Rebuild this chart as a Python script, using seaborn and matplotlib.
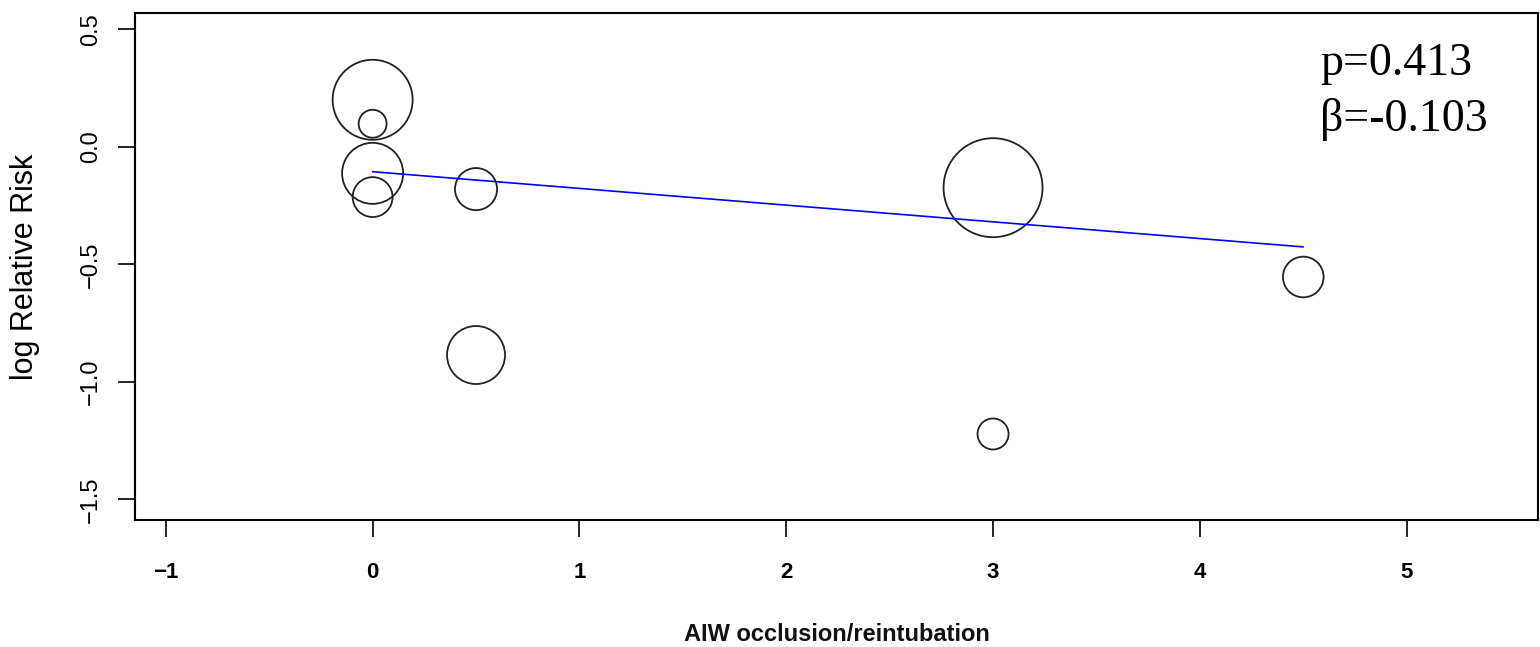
import numpy as np
import pandas as pd
import matplotlib
matplotlib.use("Agg")
import matplotlib.pyplot as plt
import seaborn as sns

# Data (meta-regression bubble plot)
aiw_occlusion = [0.0, 0.0, 0.0, 0.0, 0.5, 0.5, 3.0, 3.0, 4.5]
log_rr = [0.20, 0.098, -0.113, -0.214, -0.18, -0.886, -0.174, -1.222, -0.554]
weight_pct = [21.3, 2.6, 12.4, 5.3, 5.9, 11.2, 32.6, 3.2, 5.5]

fit_x = [0.0, 4.5]
fit_y = [-0.106, -0.426]

x_ticks = [-1, 0, 1, 2, 3, 4, 5]
y_ticks = [0.5, 0.0, -0.5, -1.0, -1.5]
annot_p = "p=0.413"
annot_beta = "β=-0.103"
x_label = "AIW occlusion/reintubation"
y_label = "log Relative Risk"

df = pd.DataFrame({"x": aiw_occlusion, "y": log_rr, "w": weight_pct})
fit_df = pd.DataFrame({"x": fit_x, "y": fit_y})

sns.set_theme(style="white")
plt.rcParams["font.family"] = ["Liberation Sans", "DejaVu Sans"]

fig = plt.figure(figsize=(15.4, 6.47), dpi=100)
ax = fig.add_axes([135 / 1540, 1 - 520 / 647, 1403 / 1540, (520 - 13.3) / 647])

wmax = max(weight_pct)
sns.scatterplot(data=df, x="x", y="y", size="w", sizes=(0, 155.8 * wmax),
                size_norm=(0, wmax), facecolor="none", edgecolor="#222222",
                linewidth=1.3, legend=False, ax=ax, zorder=3)
sns.lineplot(data=fit_df, x="x", y="y", color="#0000FF", linewidth=1.2,
             ax=ax, zorder=4)

ax.set_xlim(-1.149, 5.635)
ax.set_ylim(-1.588, 0.568)
ax.set_xticks(x_ticks)
ax.set_xticklabels(["\u22121" if t < 0 else str(t) for t in x_ticks],
                   fontweight="bold")
ax.set_yticks(y_ticks)
ax.set_yticklabels([("\u2212" + f"{abs(t):.1f}") if t < 0 else f"{t:.1f}" for t in y_ticks],
                   rotation=90, va="center")

for s in ax.spines.values():
    s.set_visible(True)
    s.set_color("black")
    s.set_linewidth(1.5)

ax.tick_params(axis="both", which="major", direction="out", length=12,
               width=1.2, color="black", labelcolor="black", bottom=True, left=True)
ax.tick_params(axis="x", labelsize=16, pad=18)
ax.tick_params(axis="y", labelsize=17, pad=12)

ax.set_xlabel(x_label, fontsize=17, fontweight="bold", color="#111111")
ax.set_ylabel(y_label, fontsize=22, color="black")
ax.xaxis.set_label_coords(0.5, -0.203)
ax.yaxis.set_label_coords(-0.0677, 0.5)

ax.text(0.8446, 0.878, annot_p, transform=ax.transAxes, fontsize=33,
        family=["Liberation Serif", "DejaVu Serif"], va="baseline", ha="left", color="black")
ax.text(0.8446, 0.768, annot_beta, transform=ax.transAxes, fontsize=33,
        family=["Liberation Serif", "DejaVu Serif"], va="baseline", ha="left", color="black")

fig.savefig("out.png", dpi=100, facecolor="white")
